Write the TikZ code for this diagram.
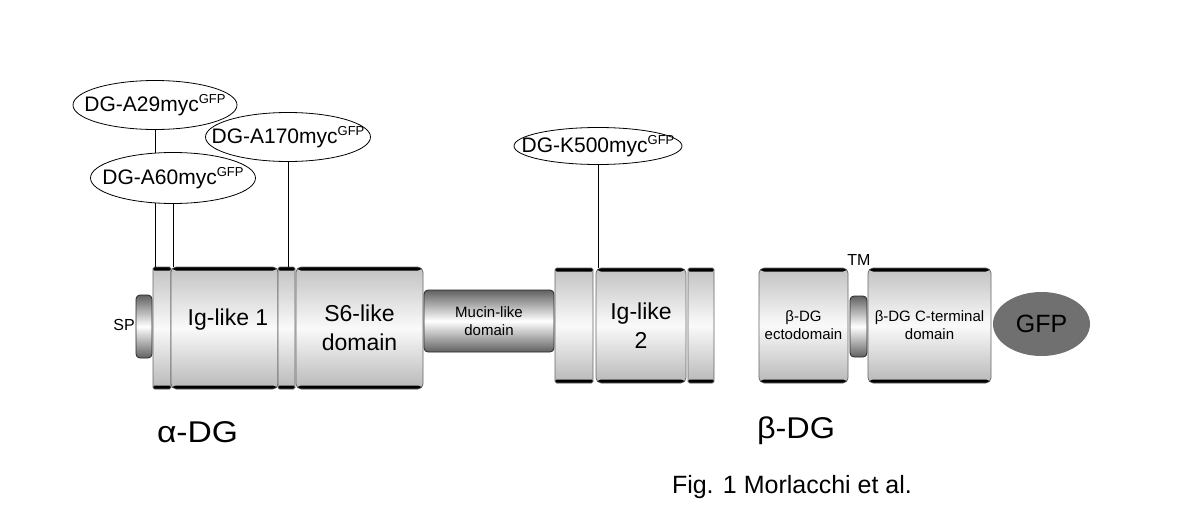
\documentclass[tikz,border=0pt]{standalone}
\usepackage{fontspec}
\setmainfont{Liberation Sans}
\usetikzlibrary{shapes}
\newcommand{\fsz}[2]{\fontsize{#1}{#2}\selectfont}
\newcommand{\gfpsup}{\raisebox{7.5pt}{\fsz{13}{15}GFP}}

\begin{document}
\begin{tikzpicture}[x=1pt,y=-1pt]
    \tikzstyle{every node}=[inner sep=0pt,outer sep=0pt]
    \tikzstyle{bands}=[path picture={
        \fill[black] (path picture bounding box.north west) rectangle ([yshift=-3.5pt]path picture bounding box.north east);
        \fill[black] (path picture bounding box.south west) rectangle ([yshift=3.5pt]path picture bounding box.south east);}]
    \tikzstyle{dseg}=[rectangle,draw=black!60,line width=0.6pt,rounded corners=5pt,top color=black!24,bottom color=black!28,middle color=black!2,bands]
    \tikzstyle{spacer}=[dseg,rounded corners=1.5pt]
    \tikzstyle{knob}=[rectangle,draw=black!85,line width=0.8pt,rounded corners=4pt,top color=black!62,bottom color=black!62,middle color=white]
    \tikzstyle{probe}=[ellipse,draw,fill=white,line width=0.8pt,inner xsep=-30pt,font=\fsz{21}{25}]
    \tikzstyle{stalk}=[line width=0.7pt]
    \tikzstyle{big}=[font=\fsz{23}{29},align=center]
    \tikzstyle{small}=[font=\fsz{15}{18},align=center]
    \tikzstyle{chainname}=[font=\fsz{30}{34},anchor=base west]
    \useasboundingbox (0,0) rectangle (1200,514);

    \node[knob,minimum width=16,minimum height=63] (sp) at (144,326.5) {};
    \node[font=\fsz{16}{19}] (splab) at (124,325) {SP};
    \node[spacer,minimum width=18,minimum height=122] (p1) at (162,328) {};
    \node[dseg,minimum width=107,minimum height=122] (ig1) at (224.5,328) {};
    \node[big] (ig1lab) at (228,320) {Ig-like 1};
    \node[spacer,minimum width=17,minimum height=122] (p2) at (286.5,328) {};
    \node[dseg,big,minimum width=127,minimum height=122] (s6) at (359.5,328) {S6-like\\domain};
    \node[knob,small,minimum width=130,minimum height=62] (muc) at (489,321) {Mucin-like\\domain};
    \node[spacer,minimum width=38,minimum height=115] (p3) at (574,325.5) {};
    \node[dseg,big,minimum width=90,minimum height=115] (ig2) at (641,325.5) {Ig-like\\2};
    \node[spacer,minimum width=26,minimum height=115] (p4) at (701,325.5) {};

    \node[dseg,small,minimum width=89,minimum height=115] (ecto) at (803.5,325.5) {β-DG\\ectodomain};
    \node[knob,minimum width=17,minimum height=61] (tm) at (858.5,326.5) {};
    \node[font=\fsz{16}{19}] (tmlab) at (859,260) {TM};
    \node[dseg,small,minimum width=123,minimum height=115] (cterm) at (929.5,325.5) {β-DG C-terminal\\domain};
    \node[ellipse,fill=black!56,minimum width=97,minimum height=64,font=\fsz{25}{30}] (gfp) at (1041.5,324) {GFP};

    \node[probe,minimum width=164,minimum height=49] (a29) at (155,105) {DG-A29myc\gfpsup};
    \draw[stalk] (a29.south) -- (a29.south |- p1.north);
    \node[probe,minimum width=165,minimum height=51] (a60) at (173,178) {DG-A60myc\gfpsup};
    \draw[stalk] (a60.south) -- (a60.south |- ig1.north);
    \node[probe,minimum width=165,minimum height=49] (a170) at (288,137) {DG-A170myc\gfpsup};
    \draw[stalk] (a170.south) -- (a170.south |- p2.north);
    \node[probe,minimum width=168,minimum height=37] (k500) at (598,146) {DG-K500myc\gfpsup};
    \draw[stalk] (k500.south) -- (k500.south |- ig2.north);

    \node[chainname] (alpha) at (157,442) {\scalebox{1.12}[1]{α-DG}};
    \node[chainname] (beta) at (757,438) {\scalebox{1.08}[1]{β-DG}};
    \node[font=\fsz{25}{30},anchor=west] (fig) at (672,487) {Fig. 1 Morlacchi et al.};
\end{tikzpicture}
\end{document}
